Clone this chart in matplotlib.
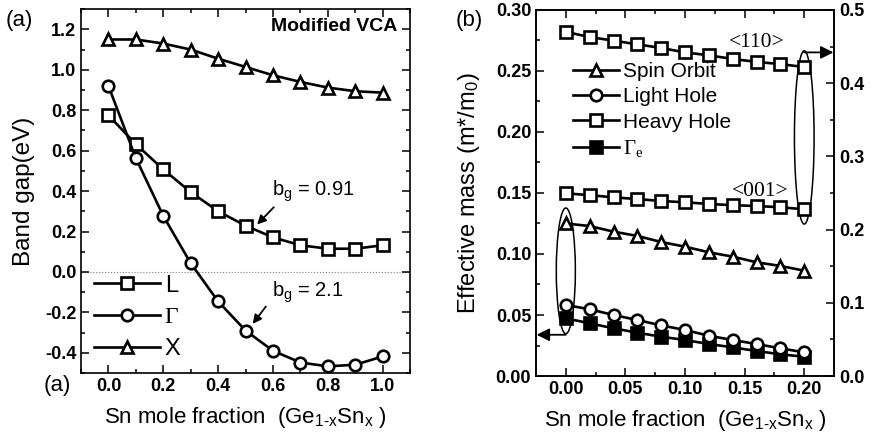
import matplotlib
matplotlib.use("Agg")
import matplotlib.pyplot as plt
from matplotlib.patches import Ellipse
from matplotlib.ticker import MultipleLocator, FormatStrFormatter

plt.rcParams['font.family'] = ['Liberation Sans', 'DejaVu Sans']
plt.rcParams['mathtext.default'] = 'regular'
plt.rcParams['font.weight'] = 'bold'

# ---- panel (a) data ----
x_a = [0.0, 0.1, 0.2, 0.3, 0.4, 0.5, 0.6, 0.7, 0.8, 0.9, 1.0]
gap_L = [0.775, 0.632, 0.507, 0.395, 0.300, 0.229, 0.171, 0.132, 0.115, 0.115, 0.132]
gap_G = [0.920, 0.563, 0.277, 0.043, -0.146, -0.290, -0.390, -0.448, -0.467, -0.459, -0.418]
gap_X = [1.150, 1.150, 1.130, 1.100, 1.055, 1.014, 0.973, 0.940, 0.912, 0.894, 0.887]

# ---- panel (b) data ----
x_b = [0.00, 0.02, 0.04, 0.06, 0.08, 0.10, 0.12, 0.14, 0.16, 0.18, 0.20]
m_so = [0.125, 0.1229, 0.1183, 0.1148, 0.1098, 0.1060, 0.1014, 0.0978, 0.0932, 0.0902, 0.0863]
m_lh = [0.0582, 0.0547, 0.0500, 0.0459, 0.0415, 0.0377, 0.0330, 0.0295, 0.0262, 0.0227, 0.0194]
m_ge = [0.0473, 0.0432, 0.0391, 0.0355, 0.0322, 0.0295, 0.0262, 0.0235, 0.0205, 0.0178, 0.0158]
# heavy hole, right axis
m_hh110 = [0.470, 0.463, 0.458, 0.453, 0.448, 0.442, 0.438, 0.433, 0.429, 0.426, 0.422]
m_hh001 = [0.2495, 0.247, 0.244, 0.2417, 0.239, 0.2373, 0.235, 0.2333, 0.2322, 0.2305, 0.2277]

fig = plt.figure(figsize=(8.73, 4.47), dpi=100)

line_kw = dict(color='black', lw=1.9, markersize=8.3, markeredgewidth=1.9,
               markerfacecolor='white', markeredgecolor='black')
N = 'normal'
XLAB = 'Sn mole fraction  (Ge$_{1\u2010x}$Sn$_x$ )'

def style_ax(ax):
    ax.tick_params(which='both', direction='in', width=1.1, labelsize=13)
    ax.tick_params(which='major', length=6)
    ax.tick_params(which='minor', length=3)
    for s in ax.spines.values():
        s.set_linewidth(1.2)

# ---------------- panel (a) ----------------
ax1 = fig.add_axes([0.0928, 0.1655, 0.377, 0.814])
ax1.axhline(0, color='gray', lw=0.8, ls=':', zorder=1)
ax1.plot(x_a, gap_L, marker='s', label='L', **line_kw)
ax1.plot(x_a, gap_G, marker='o', label='Γ', **line_kw)
ax1.plot(x_a, gap_X, marker='^', label='X', **line_kw)
ax1.set_xlim(-0.1, 1.1)
ax1.set_ylim(-0.5, 1.3)
ax1.xaxis.set_major_locator(MultipleLocator(0.2))
ax1.xaxis.set_minor_locator(MultipleLocator(0.1))
ax1.yaxis.set_major_locator(MultipleLocator(0.2))
ax1.yaxis.set_minor_locator(MultipleLocator(0.1))
ax1.xaxis.set_major_formatter(FormatStrFormatter('%.1f'))
ax1.yaxis.set_major_formatter(FormatStrFormatter('%.1f'))
ax1.tick_params(which='both', top=True, right=True)
style_ax(ax1)
ax1.set_xlabel(XLAB, fontsize=16, labelpad=7, fontweight=N)
ax1.set_ylabel('Band gap(eV)', fontsize=17.5, labelpad=7, fontweight=N)
leg1 = ax1.legend(loc='lower left', bbox_to_anchor=(0.0, 0.0), frameon=False,
                  prop={'size': 17, 'weight': 'normal'}, handlelength=2.8,
                  handletextpad=0.2, labelspacing=0.42, borderaxespad=0.15)
leg1.get_texts()[1].set_family('Liberation Serif')
ax1.text(0.96, 0.975, 'Modified VCA', transform=ax1.transAxes, ha='right', va='top',
         fontsize=14, fontweight='bold')
ax1.annotate('', xy=(0.535, 0.225), xytext=(0.61, 0.33),
             arrowprops=dict(arrowstyle='-|>', color='black', lw=1.3, mutation_scale=13))
ax1.text(0.595, 0.40, 'b$_g$ = 0.91', fontsize=14.5, va='center', fontweight=N)
ax1.annotate('', xy=(0.52, -0.268), xytext=(0.58, -0.16),
             arrowprops=dict(arrowstyle='-|>', color='black', lw=1.3, mutation_scale=13))
ax1.text(0.595, -0.10, 'b$_g$ = 2.1', fontsize=14.5, va='center', fontweight=N)
fig.text(0.006, 0.955, '(a)', fontsize=16, va='center', fontweight=N)
fig.text(0.050, 0.138, '(a)', fontsize=16, va='center', fontweight=N)

# ---------------- panel (b) ----------------
ax2 = fig.add_axes([0.614, 0.1588, 0.3414, 0.819])
ax3 = ax2.twinx()
ax2.plot(x_b, m_so, marker='^', label='Spin Orbit', zorder=3, **line_kw)
ax2.plot(x_b, m_lh, marker='o', label='Light Hole', zorder=3, **line_kw)
ax2.plot([], [], marker='s', label='Heavy Hole', **line_kw)
kw_ge = dict(line_kw)
kw_ge['markerfacecolor'] = 'black'
ax2.plot(x_b, m_ge, marker='s', label='Γ$_e$', zorder=2, **kw_ge)
ax3.plot(x_b, m_hh110, marker='s', **line_kw)
ax3.plot(x_b, m_hh001, marker='s', **line_kw)

ax2.set_xlim(-0.025, 0.225)
ax2.set_ylim(0, 0.30)
ax3.set_ylim(0, 0.5)
ax2.xaxis.set_major_locator(MultipleLocator(0.05))
ax2.xaxis.set_minor_locator(MultipleLocator(0.025))
ax2.yaxis.set_major_locator(MultipleLocator(0.05))
ax2.yaxis.set_minor_locator(MultipleLocator(0.025))
ax3.yaxis.set_major_locator(MultipleLocator(0.1))
ax3.yaxis.set_minor_locator(MultipleLocator(0.05))
ax2.xaxis.set_major_formatter(FormatStrFormatter('%.2f'))
ax2.yaxis.set_major_formatter(FormatStrFormatter('%.2f'))
ax3.yaxis.set_major_formatter(FormatStrFormatter('%.1f'))
ax2.tick_params(which='both', top=True)
style_ax(ax2)
style_ax(ax3)
ax2.set_xlabel(XLAB, fontsize=16, labelpad=7, fontweight=N)
ax2.set_ylabel('Effective mass (m*/m$_0$)', fontsize=17, labelpad=10, fontweight=N)

leg2 = ax2.legend(loc='upper left', bbox_to_anchor=(0.095, 0.88), frameon=False,
                  prop={'size': 15, 'weight': 'normal'}, handlelength=2.2,
                  handletextpad=0.2, labelspacing=0.3, borderaxespad=0.0)
leg2.get_texts()[3].set_family('Liberation Serif')

ax2.text(0.137, 0.273, '<110>', family='Liberation Serif', fontsize=15.5, ha='left',
         va='center', fontweight=N)
ax2.text(0.139, 0.151, '<001>', family='Liberation Serif', fontsize=15.5, ha='left',
         va='center', fontweight=N)

# ellipses
ax2.add_patch(Ellipse((0.20, 0.1955), 0.0165, 0.142, fill=False, lw=1.1, ec='black', zorder=4))
ax2.add_patch(Ellipse((0.0, 0.0862), 0.016, 0.103, fill=False, lw=1.1, ec='black', zorder=4))
# arrows
ax2.annotate('', xy=(0.2245, 0.2652), xytext=(0.20, 0.2652),
             arrowprops=dict(arrowstyle='-|>', color='black', lw=1.3, mutation_scale=19,
                             shrinkA=0, shrinkB=0))
ax2.annotate('', xy=(-0.0245, 0.0338), xytext=(0.0, 0.0338),
             arrowprops=dict(arrowstyle='-|>', color='black', lw=1.3, mutation_scale=19,
                             shrinkA=0, shrinkB=0))
fig.text(0.522, 0.955, '(b)', fontsize=16, va='center', fontweight=N)

fig.savefig('out.png', dpi=100)
